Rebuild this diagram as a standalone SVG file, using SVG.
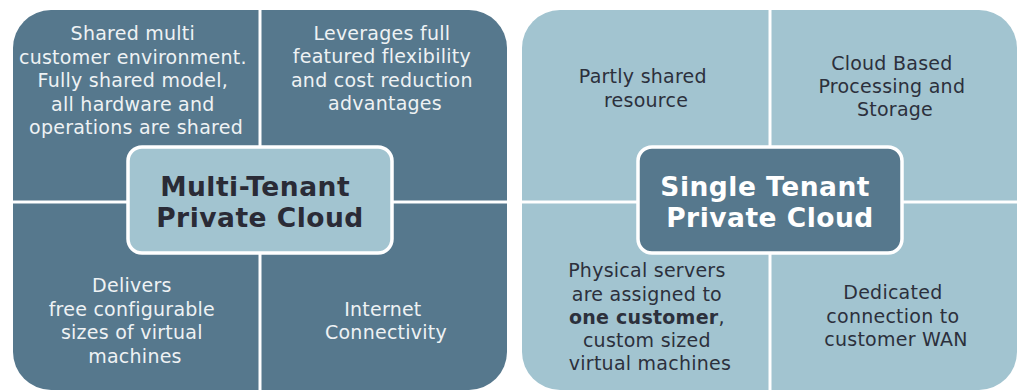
<svg xmlns="http://www.w3.org/2000/svg" width="1018" height="391" viewBox="0 0 1018 391">
  <style>
    .dark { fill: #56788d; }
    .light { fill: #a2c4d0; }
    .hub { stroke: #ffffff; stroke-width: 3.5; }
    .t { font-family: "DejaVu Sans", Verdana, sans-serif; font-size: 19px; letter-spacing: 0.25px; text-anchor: middle; }
    .tl { fill: #eef2f4; }
    .td { fill: #2c303c; }
    .title { font-family: "DejaVu Sans", Verdana, sans-serif; font-size: 26.5px; font-weight: bold; letter-spacing: 0.5px; text-anchor: middle; }
  </style>
  <rect width="1018" height="391" fill="#ffffff"/>

  <!-- Multi-Tenant panel -->
  <g id="mt-shared-env">
    <path class="dark" d="M13,48 A38,38 0 0 1 51,10 L258.5,10 L258.5,200.5 L13,200.5 Z"/>
    <text class="t tl">
      <tspan x="136" y="40">Shared multi</tspan>
      <tspan x="136" y="63.5">customer environment.</tspan>
      <tspan x="136" y="87">Fully shared model,</tspan>
      <tspan x="136" y="110.5">all hardware and</tspan>
      <tspan x="136" y="134">operations are shared</tspan>
    </text>
  </g>
  <g id="mt-flexibility">
    <path class="dark" d="M261.5,10 L469,10 A38,38 0 0 1 507,48 L507,200.5 L261.5,200.5 Z"/>
    <text class="t tl">
      <tspan x="385" y="39.5">Leverages full</tspan>
      <tspan x="385" y="63">featured flexibility</tspan>
      <tspan x="385" y="86.5">and cost reduction</tspan>
      <tspan x="385" y="110">advantages</tspan>
    </text>
  </g>
  <g id="mt-vm-sizes">
    <path class="dark" d="M13,203.5 L258.5,203.5 L258.5,390 L51,390 A38,38 0 0 1 13,352 Z"/>
    <text class="t tl">
      <tspan x="135" y="292">Delivers</tspan>
      <tspan x="135" y="315.5">free configurable</tspan>
      <tspan x="135" y="339">sizes of virtual</tspan>
      <tspan x="135" y="362.5">machines</tspan>
    </text>
  </g>
  <g id="mt-internet">
    <path class="dark" d="M261.5,203.5 L507,203.5 L507,352 A38,38 0 0 1 469,390 L261.5,390 Z"/>
    <text class="t tl">
      <tspan x="386" y="316">Internet</tspan>
      <tspan x="386" y="339">Connectivity</tspan>
    </text>
  </g>
  <g id="mt-hub">
    <rect class="light hub" x="128" y="147" width="264" height="106" rx="14"/>
    <text class="title" fill="#2a2b36">
      <tspan x="260" y="196">Multi-Tenant</tspan>
      <tspan x="260" y="227">Private Cloud</tspan>
    </text>
  </g>

  <!-- Single Tenant panel -->
  <g id="st-partly-shared">
    <path class="light" d="M522,48 A38,38 0 0 1 560,10 L768.5,10 L768.5,200.5 L522,200.5 Z"/>
    <text class="t td">
      <tspan x="646" y="83">Partly shared</tspan>
      <tspan x="646" y="107">resource</tspan>
    </text>
  </g>
  <g id="st-processing">
    <path class="light" d="M771.5,10 L979,10 A38,38 0 0 1 1017,48 L1017,200.5 L771.5,200.5 Z"/>
    <text class="t td">
      <tspan x="895" y="70">Cloud Based</tspan>
      <tspan x="895" y="93">Processing and</tspan>
      <tspan x="895" y="116">Storage</tspan>
    </text>
  </g>
  <g id="st-physical-servers">
    <path class="light" d="M522,203.5 L768.5,203.5 L768.5,390 L560,390 A38,38 0 0 1 522,352 Z"/>
    <text class="t td">
      <tspan x="650" y="277">Physical servers</tspan>
      <tspan x="650" y="300.5">are assigned to</tspan>
      <tspan x="650" y="324"><tspan font-weight="bold">one customer</tspan>,</tspan>
      <tspan x="650" y="347">custom sized</tspan>
      <tspan x="650" y="370">virtual machines</tspan>
    </text>
  </g>
  <g id="st-dedicated-wan">
    <path class="light" d="M771.5,203.5 L1017,203.5 L1017,352 A38,38 0 0 1 979,390 L771.5,390 Z"/>
    <text class="t td">
      <tspan x="896" y="299">Dedicated</tspan>
      <tspan x="896" y="322.5">connection to</tspan>
      <tspan x="896" y="346">customer WAN</tspan>
    </text>
  </g>
  <g id="st-hub">
    <rect class="dark hub" x="638" y="147" width="264" height="106" rx="14"/>
    <text class="title" fill="#ffffff">
      <tspan x="770" y="196">Single Tenant</tspan>
      <tspan x="770" y="227">Private Cloud</tspan>
    </text>
  </g>

  <g id="connectors"/>
</svg>
